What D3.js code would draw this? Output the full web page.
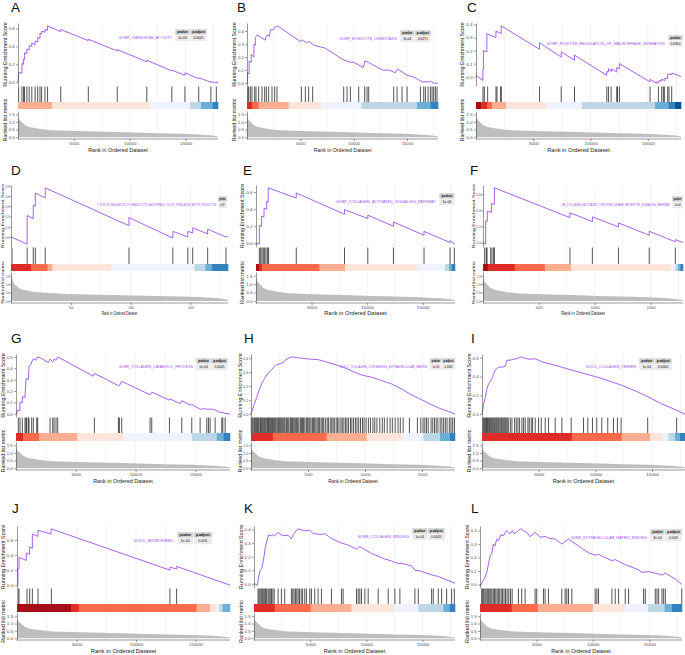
<!DOCTYPE html>
<html><head><meta charset="utf-8">
<script src="https://cdn.jsdelivr.net/npm/d3@7"></script>
<style>body{margin:0;background:#fff}svg{display:block}</style>
</head><body><svg id="fig" width="685" height="655"></svg>
<script>
// ---------------- DATA ----------------
const panelIds = ["A","B","C","D","E","F","G","H","I","J","K","L"];
const geneSetNames = ["GOMF_CHEMOKINE_ACTIVITY","GOBP_MONOCYTE_CHEMOTAXIS","GOBP_POSITIVE_REGULATION_OF_MACROPHAGE_MIGRATION",
  "Y_POSITIVE_REGULATION_OF_GRANULOCYTE_MACROPHAGE_COLONY_STIMULATING_FACTOR_PRODUCTION","GOBP_COLLAGEN_ACTIVATED_SIGNALING_PATHWAY",
  "BP_COLLAGEN_ACTIVATED_TYROSINE_KINASE_RECEPTOR_SIGNALING_PATHWAY","GOBP_COLLAGEN_CATABOLIC_PROCESS","GOCC_COLLAGEN_CONTAINING_EXTRACELLULAR_MATRIX",
  "GOCC_COLLAGEN_TRIMER","GOCC_MICROFIBRIL","GOMF_COLLAGEN_BINDING","GOMF_EXTRACELLULAR_MATRIX_BINDING"];
const pvalues = ["1e-04","2e-04","0.0304","0.047","1e-04","1e-04","1e-04","1e-04","1e-04","1e-04","1e-04","3e-04"];
const padjusts = ["0.0045","0.0271","0.2025","0.1","0.0045","0.0045","0.0045","0.0045","0.0045","0.005","0.0045","0.009"];
const tableHeaders = ["pvalue","p.adjust"];

const nGenesMain = 17900;
const nGenesD = 1814;
const rankTicksMain = [5000,10000,15000];
const rankGridMain = [2500,5000,7500,10000,12500,15000,17500];
const rankTicksD = [500,1000,1500];
const rankGridD = [250,500,750,1000,1250,1500,1750];
const metricTicks = [0,0.5,1,1.5];

// running enrichment score curves [rank, ES]
const esCurveA = [[1,0],[60,0.11],[353,0.10],[353,0.21],[500,0.20],[500,0.26],[588,0.25],[588,0.33],[794,0.32],[794,0.37],[1000,0.36],[1000,0.41],[1235,0.40],[1235,0.44],[1529,0.42],[1529,0.46],[1765,0.45],[1765,0.50],[1970,0.49],[1970,0.55],[2118,0.54],[2118,0.57],[2412,0.56],[2412,0.59],[2647,0.58],[2647,0.63],[3824,0.565],[3824,0.59],[6294,0.465],[6294,0.48],[8882,0.35],[8882,0.365],[11529,0.228],[11529,0.245],[13765,0.127],[13765,0.135],[14941,0.078],[14941,0.105],[16176,0.04],[16176,0.05],[17265,0.0],[17265,0.008],[17750,-0.01],[17750,0.0],[17900,-0.005]];
const esCurveB = [[1,0],[60,0],[60,0.08],[200,0.07],[200,0.17],[400,0.16],[400,0.22],[650,0.20],[650,0.30],[780,0.29],[780,0.35],[950,0.37],[1700,0.33],[1750,0.35],[1900,0.37],[2100,0.36],[2200,0.41],[2500,0.41],[2600,0.43],[2850,0.44],[5000,0.32],[5200,0.33],[5600,0.31],[5800,0.32],[6300,0.29],[7300,0.27],[7500,0.26],[9000,0.18],[9700,0.16],[10000,0.16],[10900,0.12],[11050,0.17],[11400,0.16],[11800,0.14],[12700,0.10],[13300,0.10],[13900,0.08],[14100,0.11],[15000,0.06],[15500,0.05],[16000,0.03],[16400,0.01],[17000,0.01],[17200,0.015],[17500,0.0],[17900,0.0]];
const esCurveC = [[1,0.01],[600,-0.03],[600,0.05],[650,0.05],[650,0.20],[950,0.19],[950,0.33],[1740,0.30],[1740,0.35],[2200,0.33],[2200,0.39],[5550,0.21],[5550,0.26],[7440,0.15],[7440,0.19],[8600,0.125],[8600,0.165],[11420,0.01],[11420,0.04],[11560,0.035],[11560,0.06],[11850,0.04],[11850,0.06],[12290,0.035],[12290,0.07],[12520,0.06],[12520,0.10],[15200,-0.04],[15200,-0.02],[15350,-0.03],[15780,-0.05],[15780,-0.04],[15980,-0.045],[15980,-0.03],[16210,-0.035],[16210,-0.02],[16500,-0.03],[16500,-0.01],[16740,-0.015],[16740,0.02],[17090,0.015],[17090,0.026],[17380,0.02],[17900,0.0]];
const esCurveD = [[1,0],[135,-0.07],[135,0.21],[186,0.18],[186,0.31],[203,0.30],[203,0.43],[286,0.38],[286,0.48],[986,0.11],[986,0.19],[1353,-0.01],[1353,0.055],[1478,0.0],[1478,0.055],[1519,0.04],[1519,0.09],[1644,0.03],[1644,0.077],[1797,0.0],[1800,0.005],[1814,0.0]];
const esCurveE = [[1,0],[300,-0.01],[300,0.21],[510,0.20],[510,0.32],[720,0.31],[720,0.41],[960,0.40],[960,0.49],[1100,0.48],[1100,0.65],[3620,0.53],[3620,0.59],[7960,0.34],[7960,0.395],[10060,0.29],[10060,0.33],[12360,0.20],[12360,0.25],[15110,0.095],[15110,0.14],[17450,0.01],[17450,0.03],[17900,-0.01]];
const esCurveF = [[1,0],[240,-0.02],[240,0.27],[390,0.265],[390,0.39],[750,0.375],[750,0.485],[1020,0.475],[1020,0.68],[7780,0.31],[7780,0.37],[9790,0.26],[9790,0.32],[12120,0.195],[12120,0.245],[14880,0.09],[14880,0.14],[17210,0.01],[17210,0.037],[17900,0.0]];
const esCurveG = [[1,0],[60,0.0],[110,0.03],[330,0.03],[330,0.10],[530,0.10],[530,0.15],[750,0.145],[840,0.31],[1030,0.30],[1090,0.42],[1230,0.43],[1310,0.455],[1450,0.485],[1670,0.47],[1810,0.50],[2150,0.485],[2710,0.45],[2850,0.48],[3070,0.455],[3180,0.48],[3350,0.47],[3490,0.50],[6470,0.33],[6560,0.355],[8560,0.247],[8700,0.255],[8840,0.285],[11220,0.167],[11360,0.19],[12830,0.12],[12890,0.13],[13730,0.09],[13870,0.115],[14560,0.077],[14700,0.083],[15400,0.04],[15680,0.045],[16000,0.04],[16500,0.04],[17000,0.015],[17900,-0.003]];
const esCurveH = [[1,0],[200,0.05],[500,0.12],[790,0.19],[1080,0.24],[1380,0.28],[1810,0.32],[2250,0.355],[2550,0.36],[2840,0.37],[2980,0.385],[3280,0.40],[3570,0.41],[4010,0.405],[4450,0.40],[5030,0.395],[5910,0.39],[6490,0.376],[7370,0.355],[7960,0.34],[8830,0.31],[9710,0.28],[10590,0.264],[11470,0.24],[12340,0.216],[13220,0.18],[14100,0.137],[14980,0.103],[15850,0.067],[16730,0.036],[17320,0.02],[17900,0.0]];
const esCurveI = [[1,0.0],[60,0.04],[150,0.11],[290,0.18],[440,0.27],[590,0.325],[730,0.35],[880,0.38],[1030,0.43],[1170,0.47],[1320,0.485],[1470,0.50],[1760,0.50],[2050,0.51],[2200,0.575],[2490,0.575],[2790,0.585],[3080,0.59],[3370,0.61],[3670,0.60],[3960,0.59],[4250,0.585],[4690,0.59],[5280,0.557],[6160,0.53],[7040,0.50],[7920,0.468],[8800,0.44],[9680,0.41],[10560,0.38],[11440,0.343],[12320,0.307],[13200,0.264],[14080,0.218],[14960,0.164],[15840,0.11],[16720,0.064],[17900,0.0]];
const esCurveJ = [[1,0],[80,0.0],[80,0.22],[170,0.22],[170,0.37],[780,0.33],[780,0.43],[1060,0.41],[1060,0.51],[1290,0.49],[1290,0.68],[1760,0.65],[1760,0.73],[2860,0.68],[2860,0.75],[12850,0.20],[12850,0.24],[13420,0.215],[13420,0.25],[17900,0.0]];
const esCurveK = [[1,0],[60,0],[300,-0.01],[450,0.066],[560,0.10],[710,0.115],[890,0.20],[1010,0.27],[1190,0.33],[1310,0.36],[1550,0.355],[1700,0.363],[1840,0.35],[1990,0.37],[2140,0.378],[2440,0.36],[2740,0.354],[3030,0.358],[3330,0.33],[3480,0.36],[3780,0.395],[3920,0.405],[4520,0.39],[4960,0.395],[5260,0.37],[6000,0.363],[6300,0.37],[6900,0.334],[7640,0.305],[8380,0.285],[9130,0.256],[9420,0.273],[10460,0.224],[11650,0.183],[12250,0.168],[12840,0.149],[13140,0.152],[14030,0.132],[14330,0.10],[14780,0.095],[15820,0.066],[16410,0.054],[17010,0.034],[17900,0.005]];
const esCurveL = [[1,0],[90,-0.005],[210,0.02],[390,0.045],[590,0.084],[740,0.147],[890,0.21],[1040,0.23],[1180,0.30],[1330,0.285],[1480,0.337],[1630,0.325],[1860,0.37],[2070,0.36],[2370,0.40],[2660,0.375],[2870,0.40],[3050,0.375],[3250,0.39],[3400,0.40],[3640,0.413],[3850,0.40],[4140,0.387],[4440,0.354],[4880,0.387],[5330,0.35],[5770,0.357],[6070,0.344],[6660,0.337],[7250,0.30],[7550,0.32],[7840,0.337],[8730,0.286],[9620,0.235],[10210,0.218],[10500,0.223],[11690,0.177],[11980,0.185],[12870,0.147],[14060,0.109],[14350,0.09],[14940,0.096],[15540,0.084],[16130,0.07],[16420,0.084],[17310,0.04],[17900,0.0]];

// gene set hit ranks
const hitsA = [60,353,500,588,794,1000,1235,1529,1765,1970,2118,2412,2647,3824,6294,8882,11529,13765,14941,16176,17265,17750];
const hitsB = [62,156,312,469,719,844,1094,1406,1656,1812,2031,2344,2594,2812,5094,5469,5781,6156,9062,9375,9688,10469,11031,11250,11406,13750,14062,14531,15000,16250,16562,16719,16969,17187,17344,17500,17656,17812];
const hitsC = [610,727,1017,1744,1831,2150,2209,5550,7439,8602,11421,11566,11798,12292,12350,12524,15198,15925,16215,16360,16447,16738,16854,17087];
const hitsD = [8,135,186,203,286,986,1353,1478,1519,1644,1797];
const hitsE = [299,419,539,658,778,898,1048,1137,3622,7962,10057,12362,15115,17450,17840];
const hitsF = [150,299,359,688,808,958,1018,7782,9787,12122,14876,17210];
const hitsG = [195,335,530,753,837,893,1032,1088,1311,1451,1730,1813,2846,3069,3181,3348,3488,6556,8565,8649,8844,11216,11355,12834,13866,14703,15401,15959,16098,16238,16656,17214,17298,17493];
const hitsH = [20,110,190,300,380,470,560,640,720,830,910,990,1080,1170,1250,1340,1450,1530,1610,1700,1790,1880,1960,2050,2140,2260,2350,2430,2520,2610,2700,2790,2880,2970,3080,3160,3240,3330,3450,3540,3620,3700,3800,3920,4010,4100,4200,4330,4420,4510,4600,4720,4850,4930,5020,5150,5260,5380,5470,5560,5690,5800,5910,6020,6150,6260,6380,6520,6680,6790,6950,7080,7200,7310,7470,7600,7720,7890,8010,8150,8300,8420,8560,8730,8850,9000,9160,9300,9450,9610,9780,9920,10100,10300,10480,10700,10860,11050,11300,11520,11700,11950,12200,12400,12650,12900,13100,13350,13900,14600,14900,15100,15250,15400,15550,15800,15950,16100,16250,16400,16600,16750,16900,17050,17200,17400,17550,17700,17850];
const hitsI = [60,150,230,320,400,480,560,650,730,820,900,990,1080,1160,1250,1330,1420,1500,1600,1690,1770,1860,1950,2040,2130,2220,2320,2494,2641,2875,3022,3169,3315,3521,3668,3814,4049,4166,4342,4460,4694,4988,5223,5575,5868,6455,7042,7863,8949,9330,9741,10122,10562,11091,11589,11941,12264,14611,17164];
const hitsJ = [84,168,842,1066,1291,1768,2890,12851,13413];
const hitsK = [360,450,540,650,740,830,950,1040,1130,1250,1350,1450,1560,1680,1800,2141,2438,2735,3330,3450,3570,3690,3810,3930,4050,4200,4330,4520,4668,4965,5114,5411,5708,6005,6897,7789,7938,9127,9276,9424,9573,9870,10168,11060,11952,12546,12992,14330,14627,15816,15965,16411,16708,17154,17600,17840];
const hitsL = [150,240,330,440,540,640,740,860,960,1060,1180,1290,1400,1520,1630,1750,1880,2000,2130,2260,2400,2550,2700,2850,3403,3699,3995,4882,5030,5622,5770,6066,7250,7545,7693,7841,8137,10209,10357,10504,11688,11984,12280,12872,13168,14499,14647,15535,15683,15831,16127,16274,16422,17880];

// ranked-list colour band: [start rank, palette index]
const bandPalette = ["#08519C","#3182BD","#6BAED6","#BDD7E7","#EFF3FF","#FEE5D9","#FCAE91","#FB6A4A","#DE2D26","#A50F15"];
const bandA = [[0,6],[3059,5],[11765,4],[15412,3],[16382,2],[17412,1]];
const bandB = [[0,8],[470,7],[1094,6],[3906,5],[6938,4],[10719,3],[15938,2],[17187,1]];
const bandC = [[0,9],[465,8],[959,7],[1395,6],[2615,5],[6103,4],[9241,3],[15634,2],[16796,1],[17377,0]];
const bandD = [[0,8],[167,7],[306,6],[347,5],[839,4],[1533,3],[1625,2],[1681,1]];
const bandE = [[0,9],[250,8],[539,7],[5717,6],[8021,5],[14457,4],[17001,3],[17360,2],[17600,1]];
const bandF = [[0,9],[449,8],[2843,7],[5537,6],[7872,5],[16761,4],[17210,3],[17450,2],[17660,1]];
const bandG = [[0,8],[614,7],[1953,6],[5134,5],[9040,4],[14703,3],[16795,2],[17353,1]];
const bandH = [[0,8],[1960,7],[6640,6],[10150,5],[13221,4],[15122,3],[16585,2],[17462,1]];
const bandI = [[0,8],[7922,7],[12323,6],[14817,5],[15844,4],[16430,3],[17017,2],[17457,1]];
const bandJ = [[0,9],[4574,8],[5191,7],[15096,6],[16219,5],[16724,4],[17005,3],[17285,2]];
const bandK = [[0,8],[1843,7],[5054,6],[8681,5],[12486,4],[14627,3],[16856,2],[17451,1]];
const bandL = [[0,8],[2811,7],[5119,6],[10001,5],[12872,4],[14884,3],[16363,2],[17014,1]];

// ranked list metric [rank, value]
const rankedMetricMain = [[0,1.35],[100,1.2],[200,1.1],[350,1.0],[650,0.78],[1000,0.67],[1500,0.6],[2200,0.52],[3000,0.46],[4500,0.42],[6000,0.39],[8000,0.35],[10300,0.3],[12500,0.26],[14800,0.22],[16000,0.18],[16800,0.15],[17400,0.11],[17900,0.05]];
const rankedMetricD = [[0,1.45],[10,1.3],[28,1.0],[83,0.7],[194,0.53],[472,0.42],[1028,0.32],[1583,0.23],[1750,0.15],[1814,0.06]];

const esTicksA = [0,0.2,0.4,0.6], esTicksB = [0,0.1,0.2,0.3,0.4], esTicksC = [0,0.1,0.2,0.3,0.4],
      esTicksD = [0,0.1,0.2,0.3,0.4,0.5], esTicksE = [0,0.2,0.4,0.6], esTicksF = [0,0.2,0.4,0.6],
      esTicksG = [0,0.1,0.2,0.3,0.4,0.5], esTicksH = [0,0.1,0.2,0.3,0.4], esTicksI = [0,0.2,0.4,0.6],
      esTicksJ = [0,0.2,0.4,0.6], esTicksK = [0,0.1,0.2,0.3,0.4], esTicksL = [0,0.1,0.2,0.3,0.4];

const curves = [esCurveA,esCurveB,esCurveC,esCurveD,esCurveE,esCurveF,esCurveG,esCurveH,esCurveI,esCurveJ,esCurveK,esCurveL];
const hitSets = [hitsA,hitsB,hitsC,hitsD,hitsE,hitsF,hitsG,hitsH,hitsI,hitsJ,hitsK,hitsL];
const bands = [bandA,bandB,bandC,bandD,bandE,bandF,bandG,bandH,bandI,bandJ,bandK,bandL];
const esTicks = [esTicksA,esTicksB,esTicksC,esTicksD,esTicksE,esTicksF,esTicksG,esTicksH,esTicksI,esTicksJ,esTicksK,esTicksL];

// ---------------- LAYOUT ----------------
const rowsY = [
  {esTop:23, esBot:86, hitBot:102, bandBot:109, rkTop:111, rkBot:139, titleY:152, letterY:12},
  {esTop:185, esBot:247, hitBot:264, bandBot:271, rkTop:272, rkBot:303, titleY:315, letterY:175},
  {esTop:354, esBot:417, hitBot:433, bandBot:441, rkTop:442, rkBot:470, titleY:483, letterY:343},
  {esTop:526, esBot:588, hitBot:604, bandBot:612, rkTop:613, rkBot:640, titleY:653, letterY:513}
];
// cols: how many table columns are visible inside the panel; ts: table scale
const layout = {
  A:{row:0,x0:18,x1:218,lx:11,tx:175,ty:29,sx:1,cols:2,ts:1},
  B:{row:0,x0:247,x1:438,lx:237,tx:400,ty:30,sx:0.97,cols:2,ts:1},
  C:{row:0,x0:476,x1:681,lx:467,tx:668,ty:35,sx:1.05,cols:1,ts:0.95},
  D:{row:1,x0:11,x1:228,lx:11,tx:218,ty:196,sx:0.6,cols:1,ts:1},
  E:{row:1,x0:256,x1:455,lx:243,tx:439,ty:193,sx:1.05,cols:1,ts:1},
  F:{row:1,x0:483,x1:683,lx:470,tx:672,ty:196,sx:0.73,cols:1,ts:1},
  G:{row:2,x0:16,x1:230,lx:11,tx:196,ty:358,sx:1,cols:2,ts:1},
  H:{row:2,x0:251,x1:455,lx:244,tx:430,ty:358,sx:0.83,cols:2,ts:0.95},
  I:{row:2,x0:482,x1:685,lx:471,tx:639,ty:358,sx:1.03,cols:2,ts:1},
  J:{row:3,x0:17,x1:230,lx:12,tx:177,ty:532,sx:1.1,cols:2,ts:1},
  K:{row:3,x0:254,x1:455,lx:244,tx:412,ty:528,sx:1.03,cols:2,ts:1},
  L:{row:3,x0:480,x1:682,lx:471,tx:650,ty:529,sx:1.0,cols:2,ts:1}
};
const FONT = "'Liberation Sans', Arial, Helvetica, sans-serif";
const ES_COLOR = "#9d4ff0";
const metricDomain = [-0.12, 1.72];

const svg = d3.select("#fig");

panelIds.forEach((id, i) => {
  const isD = id === "D";
  drawPanel({
    id, name: geneSetNames[i], pv: pvalues[i], pa: padjusts[i],
    curve: curves[i], hits: hitSets[i], band: bands[i], esTicks: esTicks[i],
    metric: isD ? rankedMetricD : rankedMetricMain,
    n: isD ? nGenesD : nGenesMain,
    rankTicks: isD ? rankTicksD : rankTicksMain,
    grid: isD ? rankGridD : rankGridMain
  });
});

function styleAxis(sel, sx){
  sel.attr("font-family", FONT).attr("font-size", 4.4);
  sel.select(".domain").attr("stroke","#333").attr("stroke-width",0.5);
  sel.selectAll(".tick line").attr("stroke","#333").attr("stroke-width",0.5);
  sel.selectAll(".tick text").attr("fill","#4d4d4d").attr("transform", `scale(${sx},1)`);
}

function drawPanel(p){
  const L = layout[p.id], R = rowsY[L.row], sx = L.sx;
  const g = svg.append("g");
  const x = d3.scaleLinear().domain([0, p.n]).range([L.x0, L.x1]);
  const [lo, hi] = d3.extent(p.curve, d => d[1]);
  const pad = (hi - lo) * 0.05;
  const y = d3.scaleLinear().domain([lo - pad, hi + pad]).range([R.esBot, R.esTop]);
  const ym = d3.scaleLinear().domain(metricDomain).range([R.rkBot, R.rkTop]);

  // grid lines
  g.append("g").selectAll("line").data(p.grid).join("line")
    .attr("x1", d => x(d)).attr("x2", d => x(d)).attr("y1", R.esTop).attr("y2", R.hitBot)
    .attr("stroke", "#ebebeb").attr("stroke-width", 0.6);
  g.append("g").selectAll("line").data(p.grid).join("line")
    .attr("x1", d => x(d)).attr("x2", d => x(d)).attr("y1", R.rkTop).attr("y2", R.rkBot)
    .attr("stroke", "#ebebeb").attr("stroke-width", 0.6);

  // hits
  g.append("g").selectAll("line").data(p.hits).join("line")
    .attr("x1", d => x(d)).attr("x2", d => x(d)).attr("y1", R.esBot + 0.5).attr("y2", R.hitBot)
    .attr("stroke", "#000").attr("stroke-opacity", 0.8).attr("stroke-width", 0.85);

  // colour band
  g.append("g").selectAll("rect").data(p.band).join("rect")
    .attr("x", d => x(d[0]))
    .attr("width", (d, i) => x(i < p.band.length - 1 ? p.band[i + 1][0] : p.n) - x(d[0]) + 0.3)
    .attr("y", R.hitBot).attr("height", R.bandBot - R.hitBot)
    .attr("fill", d => bandPalette[d[1]]);

  // ranked list metric
  g.append("path").datum(p.metric)
    .attr("d", d3.area().x(d => x(d[0])).y0(ym(0)).y1(d => ym(d[1])))
    .attr("fill", "#bebebe");

  // running ES curve
  g.append("path").datum(p.curve)
    .attr("d", d3.line().x(d => x(d[0])).y(d => y(d[1])))
    .attr("fill", "none").attr("stroke", ES_COLOR).attr("stroke-width", 0.9);

  // axes
  const ax1 = g.append("g").attr("transform", `translate(${L.x0},0)`)
    .call(d3.axisLeft(y).tickValues(p.esTicks).tickSize(2).tickSizeOuter(0).tickPadding(1.2).tickFormat(d3.format(".1f")));
  styleAxis(ax1, sx);
  const ax2 = g.append("g").attr("transform", `translate(${L.x0},0)`)
    .call(d3.axisLeft(ym).tickValues(metricTicks).tickSize(2).tickSizeOuter(0).tickPadding(1.2).tickFormat(d3.format(".1f")));
  styleAxis(ax2, sx);
  const ax3 = g.append("g").attr("transform", `translate(0,${R.rkBot})`)
    .call(d3.axisBottom(x).tickValues(p.rankTicks).tickSize(2).tickSizeOuter(0).tickPadding(1).tickFormat(d3.format("d")));
  styleAxis(ax3, sx);
  ax3.select(".domain").attr("d", `M${L.x0},0H${L.x1}`);

  // titles
  const tFs = 5.4;
  g.append("text").attr("transform", `translate(${(L.x0 + L.x1) / 2},${R.titleY}) scale(${sx},1)`)
    .attr("text-anchor", "middle").attr("font-family", FONT).attr("font-size", tFs).attr("fill", "#1a1a1a")
    .text("Rank in Ordered Dataset");
  g.append("text").attr("transform", `translate(${L.x0 - 11 * sx},${(R.esTop + R.esBot) / 2}) scale(${sx},1) rotate(-90)`)
    .attr("text-anchor", "middle").attr("font-family", FONT).attr("font-size", tFs).attr("fill", "#1a1a1a")
    .text("Running Enrichment Score");
  g.append("text").attr("transform", `translate(${L.x0 - 11 * sx},${(R.rkTop + R.rkBot) / 2 - 5}) scale(${sx},1) rotate(-90)`)
    .attr("text-anchor", "middle").attr("font-family", FONT).attr("font-size", tFs).attr("fill", "#1a1a1a")
    .text("Ranked list metric");

  // panel letter
  svg.append("text").attr("x", L.lx).attr("y", R.letterY)
    .attr("font-family", FONT).attr("font-size", 13.5).attr("fill", "#111").text(p.id);

  // gene set label + statistics table
  g.append("text").attr("transform", `translate(${L.tx - 3 * sx},${L.ty + 10.3}) scale(${sx},1)`)
    .attr("text-anchor", "end").attr("font-family", FONT).attr("font-size", 3.65).attr("fill", ES_COLOR)
    .text(p.name);
  const ts = L.ts;
  const tb = g.append("g").attr("transform", `translate(${L.tx},${L.ty}) scale(${sx * ts},${ts})`);
  const colW = [15, 17], rowH = [6, 6.5];
  const allCells = [
    {c:0, r:0, t:tableHeaders[0]}, {c:1, r:0, t:tableHeaders[1]},
    {c:0, r:1, t:p.pv}, {c:1, r:1, t:p.pa}
  ];
  const cells = allCells.filter(d => d.c < L.cols);
  const cx = c => c === 0 ? 0 : colW[0];
  const cy = r => r === 0 ? 0 : rowH[0];
  tb.selectAll("rect").data(cells).join("rect")
    .attr("x", d => cx(d.c)).attr("y", d => cy(d.r)).attr("width", d => colW[d.c]).attr("height", d => rowH[d.r])
    .attr("fill", d => d.r === 0 ? "#d0d0d0" : "#ebebeb").attr("stroke", "#fff").attr("stroke-width", 0.5);
  tb.selectAll("text").data(cells).join("text")
    .attr("x", d => cx(d.c) + colW[d.c] / 2).attr("y", d => cy(d.r) + rowH[d.r] / 2 + 1.2)
    .attr("text-anchor", "middle").attr("font-family", FONT).attr("font-size", 3.3)
    .attr("font-weight", d => d.r === 0 ? "bold" : "normal").attr("fill", "#111").text(d => d.t);
}
</script></body></html>
